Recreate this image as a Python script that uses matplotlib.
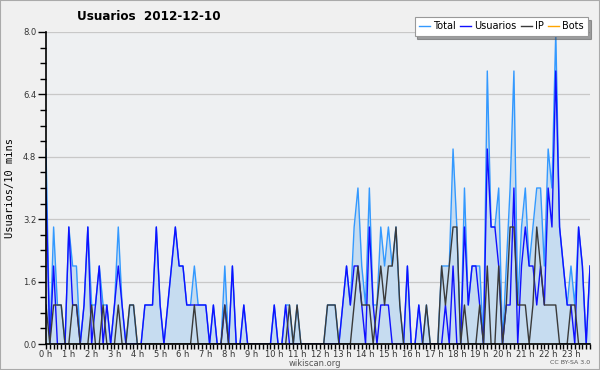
import numpy as np
import matplotlib
matplotlib.use('Agg')
import matplotlib.pyplot as plt
from matplotlib.ticker import MultipleLocator, FuncFormatter
from matplotlib.patches import Rectangle

# valeurs par tranche de 10 minutes (144 points)
total = [5, 0, 3, 1, 1, 0, 3, 2, 2, 0,
         1, 3, 1, 1, 2, 1, 1, 0, 1, 3,
         1, 0, 1, 1, 0, 0, 1, 1, 1, 3,
         1, 0, 1, 2, 3, 2, 2, 1, 1, 2,
         1, 1, 1, 0, 1, 0, 0, 2, 0, 2,
         0, 0, 1, 0, 0, 0, 0, 0, 0, 0,
         1, 0, 0, 1, 1, 0, 1, 0, 0, 0,
         0, 0, 0, 0, 1, 1, 1, 0, 1, 2,
         1, 3, 4, 2, 1, 4, 1, 1, 3, 2,
         3, 2, 3, 1, 0, 2, 0, 0, 1, 0,
         1, 0, 0, 0, 2, 2, 2, 5, 3, 0,
         4, 1, 2, 2, 2, 0, 7, 3, 3, 4,
         0, 2, 4, 7, 1, 3, 4, 2, 3, 4,
         4, 2, 5, 4, 8, 3, 2, 1, 2, 1,
         3, 2, 0, 2]
usuarios = [4, 0, 2, 0, 0, 0, 3, 1, 1, 0,
            1, 3, 0, 1, 2, 0, 1, 0, 1, 2,
            1, 0, 0, 0, 0, 0, 1, 1, 1, 3,
            1, 0, 1, 2, 3, 2, 2, 1, 1, 1,
            1, 1, 1, 0, 1, 0, 0, 1, 0, 2,
            0, 0, 1, 0, 0, 0, 0, 0, 0, 0,
            1, 0, 0, 1, 0, 0, 0, 0, 0, 0,
            0, 0, 0, 0, 0, 0, 0, 0, 1, 2,
            1, 2, 2, 1, 0, 3, 1, 0, 1, 1,
            1, 0, 0, 0, 0, 2, 0, 0, 1, 0,
            0, 0, 0, 0, 0, 1, 0, 2, 0, 0,
            3, 1, 2, 2, 1, 0, 5, 3, 3, 2,
            0, 1, 1, 4, 0, 2, 3, 2, 2, 1,
            2, 1, 4, 3, 7, 3, 2, 1, 1, 0,
            3, 2, 0, 2]
ip = [1, 0, 1, 1, 1, 0, 0, 1, 1, 0,
      0, 0, 1, 0, 0, 1, 0, 0, 0, 1,
      0, 0, 1, 1, 0, 0, 0, 0, 0, 0,
      0, 0, 0, 0, 0, 0, 0, 0, 0, 1,
      0, 0, 0, 0, 0, 0, 0, 1, 0, 0,
      0, 0, 0, 0, 0, 0, 0, 0, 0, 0,
      0, 0, 0, 0, 1, 0, 1, 0, 0, 0,
      0, 0, 0, 0, 1, 1, 1, 0, 0, 0,
      0, 1, 2, 1, 1, 1, 0, 1, 2, 1,
      2, 2, 3, 1, 0, 0, 0, 0, 0, 0,
      1, 0, 0, 0, 2, 1, 2, 3, 3, 0,
      1, 0, 0, 0, 1, 0, 2, 0, 0, 2,
      0, 1, 3, 3, 1, 1, 1, 0, 1, 3,
      2, 1, 1, 1, 1, 0, 0, 0, 1, 1,
      0, 0, 0, 0]
bots = [0] * 144

x = np.arange(len(total))

fig = plt.figure(figsize=(6, 3.7), dpi=100, facecolor='#f0f0f0')
ax = fig.add_axes([46 / 600, 26 / 370, 544 / 600, 312 / 370])
ax.set_facecolor('#eef0f2')

ax.fill_between(x, total, color='#c6dcf0', lw=0, zorder=1)
l_tot, = ax.plot(x, total, color='#3399ff', lw=1.0, zorder=3)
l_usr, = ax.plot(x, usuarios, color='#1010ff', lw=1.0, zorder=4)
l_ip, = ax.plot(x, ip, color='#3a3a3a', lw=1.0, zorder=5)
l_bot, = ax.plot(x, bots, color='#ffa500', lw=1.0, zorder=2)

ax.set_xlim(0, 143)
ax.set_ylim(0, 8)

ax.xaxis.set_major_locator(MultipleLocator(6))
ax.xaxis.set_minor_locator(MultipleLocator(1))
ax.xaxis.set_major_formatter(FuncFormatter(lambda v, p: '%d h' % int(v / 6)))
ax.yaxis.set_major_locator(MultipleLocator(1.6))
ax.yaxis.set_minor_locator(MultipleLocator(0.4))
ax.yaxis.set_major_formatter(FuncFormatter(lambda v, p: '%.1f' % v))

ax.tick_params(axis='both', which='both', direction='out', labelsize=6,
               labelcolor='#333333', width=1, pad=1)
ax.tick_params(axis='y', which='major', length=6)
ax.tick_params(axis='y', which='minor', length=4)
ax.tick_params(axis='x', which='both', length=3.5, pad=0.5)

for s in ['top', 'right']:
    ax.spines[s].set_visible(False)
for s in ['left', 'bottom']:
    ax.spines[s].set_linewidth(1.2)
    ax.spines[s].set_zorder(6)

ax.yaxis.grid(True, color='#c8c8c8', lw=0.9)
ax.set_axisbelow(True)

fig.text(77 / 600, 1 - 17 / 370, 'Usuarios  2012-12-10', fontsize=9.5,
         fontweight='bold', fontstretch='condensed', family='DejaVu Sans',
         va='center', ha='left')
fig.text(10 / 600, 1 - 188 / 370, 'Usuarios/10 mins', rotation=90,
         fontsize=7.5, family='DejaVu Sans Mono', va='center', ha='center')
fig.text(315 / 600, 1 - 363 / 370, 'wikiscan.org', fontsize=6,
         color='#555555', ha='center', va='center')
fig.text(570 / 600, 1 - 362 / 370, 'CC BY-SA 3.0', fontsize=4.5,
         color='#555555', ha='center', va='center')

leg = fig.legend([l_tot, l_usr, l_ip, l_bot], ['Total', 'Usuarios', 'IP', 'Bots'],
                 loc='upper right', bbox_to_anchor=(588 / 600, 1 - 17 / 370),
                 ncol=4, fontsize=7, frameon=True, fancybox=False, shadow=True,
                 handlelength=1.1, handletextpad=0.3, columnspacing=0.5,
                 borderpad=0.45, borderaxespad=0)
leg.get_frame().set_edgecolor('#999999')
leg.get_frame().set_linewidth(0.8)

fig.patches.append(Rectangle((0, 0), 1, 1, transform=fig.transFigure,
                             fill=False, edgecolor='#aaaaaa', lw=1.5))

plt.savefig('out.png', dpi=100, facecolor=fig.get_facecolor())
